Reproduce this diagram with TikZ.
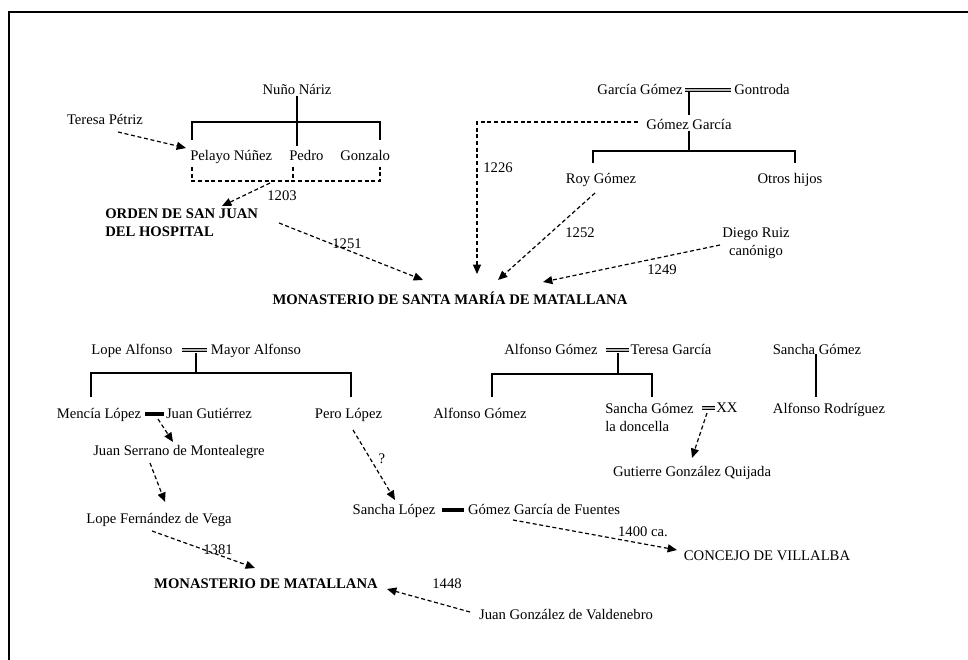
\documentclass[tikz,border=0pt]{standalone}
\usepackage{fontspec}
\setmainfont{Liberation Serif}
\usetikzlibrary{arrows.meta}
\begin{document}
\begin{tikzpicture}[x=0.75pt,y=-0.75pt,
  every node/.style={inner sep=0pt,font=\fontsize{11}{13.5}\selectfont},
  lbl/.style={text height=7pt,text depth=1pt},
  bold/.style={font=\fontsize{11}{13.5}\selectfont\bfseries},
  tree/.style={line width=1.3pt},
  link/.style={line width=0.9pt,dash pattern=on 3pt off 2pt,-{Triangle[length=7pt,width=6pt]}},
  dbox/.style={line width=0.9pt,dash pattern=on 3pt off 2pt},
  wed/.style={draw=black,line width=0.6pt,double=gray!55,double distance=1.4pt},
  bar/.style={line width=3pt},
  frame/.style={line width=2.2pt}
]
\useasboundingbox (0,0) rectangle (968,660);
\draw[frame] (9,660) -- (9,12) -- (968,12);

% ---------- top left ----------
\node[lbl] (nuno) at (297,90) {Nuño Náriz};
\node[lbl] (teresa) at (105,120) {Teresa Pétriz};
\node[lbl,anchor=west] (pelayo) at (190,157) {Pelayo Núñez};
\node[lbl,anchor=west] (pedro) at (289,157) {Pedro};
\node[lbl,anchor=west] (gonzalo) at (340,157) {Gonzalo};
\node[bold,align=left,anchor=west] (orden) at (105,223) {ORDEN DE SAN JUAN\\DEL HOSPITAL};
\node[lbl] (y1203) at (282,196) {1203};
\node[lbl] (y1251) at (347,244) {1251};

\coordinate (nunoEnd) at (297,146);
\coordinate (bkL) at (192,140);
\coordinate (bkR) at (380,140);
\draw[tree] (nuno.south) -- (nunoEnd);
\draw[tree] (bkL) -- (192,122) -- (380,122) -- (bkR);
\coordinate (dbL) at (192,167);
\coordinate (dbM) at (293,167);
\coordinate (dbR) at (380,167);
\draw[dbox] (dbL) -- (192,181) -- (380,181) -- (dbR);
\draw[dbox] (dbM) -- (293,181);

\coordinate (tA) at (118,132);
\coordinate (tB) at (186,148);
\draw[link] (tA) -- (tB);
\coordinate (sA) at (270,183);
\coordinate (sB) at (222,206);
\draw[link] (sA) -- (sB);
\coordinate (oA) at (279,223);
\coordinate (oB) at (423,280);
\draw[link] (oA) -- (oB);

% ---------- top right ----------
\node[lbl] (garcia) at (640,90) {García Gómez};
\node[lbl] (gontroda) at (762,90) {Gontroda};
\node[lbl] (gomezg) at (689,125) {Gómez García};
\node[lbl] (roy) at (601,179) {Roy Gómez};
\node[lbl] (otros) at (790,179) {Otros hijos};
\node[align=center] (diego) at (756,243) {Diego Ruiz\\canónigo};
\node[lbl] (y1226) at (498,168) {1226};
\node[lbl] (y1252) at (580,233) {1252};
\node[lbl] (y1249) at (662,270) {1249};
\node[bold,lbl] (monsm) at (450,300) {MONASTERIO DE SANTA MARÍA DE MATALLANA};

\draw[wed] ([xshift=2pt]garcia.east) -- ([xshift=-2pt]gontroda.west);
\coordinate (gA) at (689,92);
\coordinate (gB) at (689,115);
\draw[tree] (gA) -- (gB);
\coordinate (gC) at (689,131);
\draw[tree] (gC) -- (689,151);
\draw[tree] (593,163) -- (593,151) -- (795,151) -- (795,163);

\coordinate (cA) at (638,122);
\coordinate (cB) at (477,274);
\draw[link] (cA) -- (477,122) -- (cB);
\coordinate (rA) at (595,193);
\coordinate (rB) at (498,280);
\draw[link] (rA) -- (rB);
\coordinate (dA) at (720,245);
\coordinate (dB) at (543,282);
\draw[link] (dA) -- (dB);

% ---------- bottom left ----------
\node[lbl] (lope) at (132,350) {Lope Alfonso};
\node[lbl] (mayor) at (256,350) {Mayor Alfonso};
\node[lbl] (mencia) at (99,414) {Mencía López};
\node[lbl] (juang) at (209,414) {Juan Gutiérrez};
\node[lbl] (pero) at (348.5,414) {Pero López};
\node[lbl] (serrano) at (179,451) {Juan Serrano de Montealegre};
\node[lbl] (lopef) at (159,519) {Lope Fernández de Vega};
\node[bold,lbl] (monm) at (266,584) {MONASTERIO DE MATALLANA};
\node[lbl] (sanchal) at (394,510) {Sancha López};
\node[lbl] (gomezf) at (544,510) {Gómez García de Fuentes};
\node[lbl] (concejo) at (767,556) {CONCEJO DE VILLALBA};
\node[lbl] (juangv) at (566,615) {Juan González de Valdenebro};
\node[lbl] (qm) at (382,459) {?};
\node[lbl] (y1381) at (218,550) {1381};
\node[lbl] (y1400) at (643,532) {1400 ca.};
\node[lbl] (y1448) at (447,584) {1448};

\draw[wed] ([xshift=7pt]lope.east) -- ([xshift=-3pt]mayor.west);
\draw[tree] (196,353) -- (196,373);
\draw[tree] (91,397) -- (91,373) -- (351,373) -- (351,397);
\draw[bar] ([xshift=3pt]mencia.east) -- ([xshift=-1pt]juang.west);

\coordinate (mA) at (158,419);
\coordinate (mB) at (173,442);
\draw[link] (mA) -- (mB);
\coordinate (jA) at (150,463);
\coordinate (jB) at (165,502);
\draw[link] (jA) -- (jB);
\coordinate (lA) at (152,531);
\coordinate (lB) at (255,568);
\draw[link] (lA) -- (lB);
\coordinate (pA) at (353,430);
\coordinate (pB) at (395,500);
\draw[link] (pA) -- (pB);
\draw[bar] ([xshift=5pt]sanchal.east) -- ([xshift=-3pt]gomezf.west);
\coordinate (fA) at (513,520);
\coordinate (fB) at (677,550);
\draw[link] (fA) -- (fB);
\coordinate (vA) at (470,612);
\coordinate (vB) at (387,589);
\draw[link] (vA) -- (vB);

% ---------- bottom right ----------
\node[lbl] (alfg) at (551,350) {Alfonso Gómez};
\node[lbl] (teresag) at (671,350) {Teresa García};
\node[lbl] (alfgc) at (480,414) {Alfonso Gómez};
\node[align=left,anchor=west] (sanchag) at (605,417) {Sancha Gómez\\la doncella};
\node[lbl,anchor=west] (xx) at (716,408) {XX};
\node[lbl] (gutierre) at (692,472) {Gutierre González Quijada};
\node[lbl] (sanchag2) at (817,350) {Sancha Gómez};
\node[lbl] (alfr) at (829,409) {Alfonso Rodríguez};

\draw[wed] ([xshift=6pt]alfg.east) -- ([xshift=-1pt]teresag.west);
\draw[tree] (618,353) -- (618,374);
\draw[tree] (492,397) -- (492,374) -- (652,374) -- (652,397);
\coordinate (xA) at (702,408);
\draw[wed] (xA) -- ([xshift=-1pt]xx.west);
\coordinate (xB) at (707,413);
\coordinate (xC) at (692,458);
\draw[link] (xB) -- (xC);
\coordinate (sgA) at (816,354);
\draw[tree] (sgA) -- (816,397);
\end{tikzpicture}
\end{document}
